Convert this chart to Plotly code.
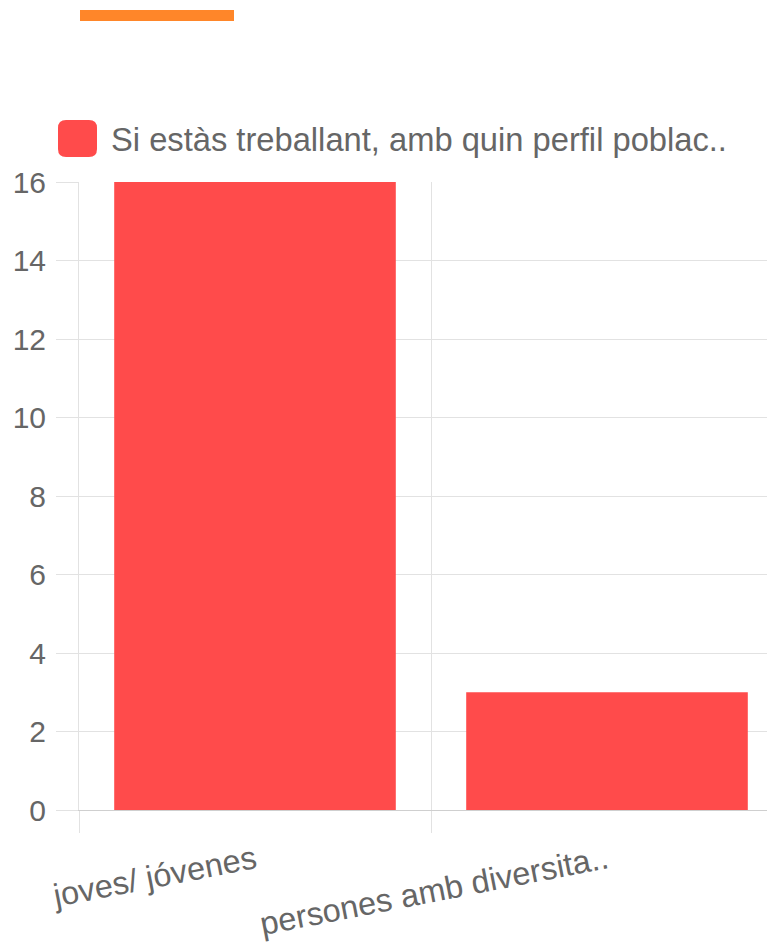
import plotly.graph_objects as go

categories = ["joves/ jóvenes", "persones amb diversita.."]
values = [16, 3]
series_name = "Si estàs treballant, amb quin perfil poblac.."
y_ticks = [0, 2, 4, 6, 8, 10, 12, 14, 16]

OFF = 8  # page body margin
W, H = 775 - OFF, 944 - OFF
# plot area in screenshot pixels
L, R, T, B = 79, 775, 182, 810


def px(xp):
    return (xp - L) / (R - L)


def py(yp):
    return (B - yp) / (B - T)


FONT = "Liberation Sans, Arial, Helvetica, sans-serif"
TXT = "#666666"
GRID = "#e2e2e2"
BAR = "#FF4B4B"

fig = go.Figure()
fig.add_trace(go.Bar(
    x=categories, y=values, name=series_name,
    marker=dict(color=BAR, line=dict(width=0)),
    width=0.8, showlegend=False,
))

cat_px = 352.0
x_right = -0.5 + (R - L) / cat_px

fig.update_layout(
    width=W, height=H,
    margin=dict(l=L - OFF, r=W - (R - OFF), t=T - OFF, b=H - (B - OFF), pad=0),
    plot_bgcolor="white", paper_bgcolor="white",
    font=dict(family=FONT, color=TXT),
    xaxis=dict(
        type="category", range=[-0.5, x_right],
        tickson="boundaries", showgrid=True, gridcolor=GRID, gridwidth=1,
        ticks="outside", ticklen=22, tickcolor=GRID, tickwidth=1,
        tickangle=-11, tickfont=dict(size=32.5, color=TXT, family=FONT),
        ticklabelstandoff=18,
        showline=True, linecolor="#cfcfcf", linewidth=1,
        zeroline=False,
    ),
    yaxis=dict(
        range=[0, 16], tickvals=y_ticks, ticktext=[str(v) for v in y_ticks],
        showgrid=True, gridcolor=GRID, gridwidth=1,
        ticks="outside", ticklen=22, tickcolor=GRID, tickwidth=1,
        tickfont=dict(size=30, color=TXT, family=FONT),
        ticklabelstandoff=4,
        showline=True, linecolor=GRID, linewidth=1,
        zeroline=False,
    ),
    bargap=0.2,
)

# orange top strip
fig.add_shape(type="rect", xref="paper", yref="paper",
              x0=px(80), x1=px(234), y0=py(21), y1=py(10),
              fillcolor="#FF8629", line=dict(width=0), layer="above")

# legend box (rounded)
hw, hh, r = 19.5, 18.5, 8
path = (f"M {-hw + r},{-hh} L {hw - r},{-hh} Q {hw},{-hh} {hw},{-hh + r} "
        f"L {hw},{hh - r} Q {hw},{hh} {hw - r},{hh} L {-hw + r},{hh} "
        f"Q {-hw},{hh} {-hw},{hh - r} L {-hw},{-hh + r} Q {-hw},{-hh} {-hw + r},{-hh} Z")
fig.add_shape(type="path", xref="paper", yref="paper",
              xsizemode="pixel", ysizemode="pixel",
              xanchor=px(77.5), yanchor=py(138.5), path=path,
              fillcolor=BAR, line=dict(width=0), layer="above")

fig.add_annotation(text=series_name, xref="paper", yref="paper",
                   x=px(109), y=py(139), xanchor="left", yanchor="middle",
                   showarrow=False, font=dict(size=32.7, color=TXT, family=FONT))

fig.write_html("out.html")
